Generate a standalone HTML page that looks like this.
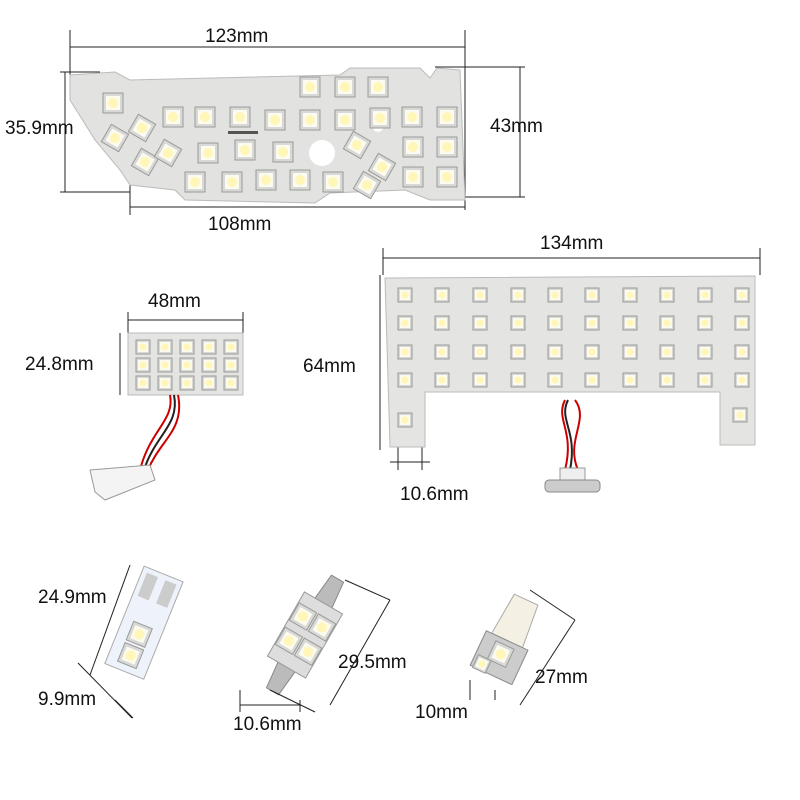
<!DOCTYPE html>
<html><head><meta charset="utf-8"><style>
html,body{margin:0;padding:0;background:#fff}
svg{display:block}
text{font-family:"Liberation Sans",sans-serif;font-size:19px;fill:#111}
</style></head><body>
<svg width="800" height="800" viewBox="0 0 800 800" xmlns="http://www.w3.org/2000/svg">
<defs>
<g id="led"><rect x="-10" y="-10" width="20" height="20" fill="#d8d8d6" stroke="#9a9a98" stroke-width="1"/><rect x="-7" y="-7" width="14" height="14" fill="#fbfbef"/><circle cx="0" cy="0" r="5" fill="#fff6b8"/></g>
<g id="lds"><rect x="-7" y="-7" width="14" height="14" fill="#d8d8d6" stroke="#9a9a98"/><rect x="-5" y="-5" width="10" height="10" fill="#fbfbef"/><circle r="3.5" fill="#fff6b8"/></g>
</defs>
<g stroke="#222" stroke-width="1" fill="none">
<line x1="70" y1="30" x2="70" y2="75"/><line x1="465" y1="30" x2="465" y2="210"/>
<line x1="70" y1="47" x2="465" y2="47"/>
<line x1="65" y1="72" x2="65" y2="192"/><line x1="60" y1="72" x2="100" y2="72"/><line x1="60" y1="192" x2="130" y2="192"/>
<line x1="520" y1="67" x2="520" y2="197"/><line x1="435" y1="67" x2="525" y2="67"/><line x1="430" y1="197" x2="525" y2="197"/>
<line x1="130" y1="185" x2="130" y2="215"/><line x1="130" y1="207" x2="465" y2="207"/>
<line x1="383" y1="248" x2="383" y2="275"/><line x1="760" y1="248" x2="760" y2="275"/><line x1="383" y1="258" x2="760" y2="258"/>
<line x1="380" y1="275" x2="380" y2="450"/>
<line x1="398" y1="440" x2="398" y2="470"/><line x1="422" y1="440" x2="422" y2="470"/><line x1="390" y1="462" x2="430" y2="462"/>
<line x1="128" y1="312" x2="128" y2="335"/><line x1="243" y1="312" x2="243" y2="335"/><line x1="128" y1="320" x2="243" y2="320"/>
<line x1="120" y1="333" x2="120" y2="395"/>
</g>
<polygon points="70,75 115,72 130,80 340,75 350,68 420,68 430,78 437,68 460,70 465,200 430,200 405,190 330,193 315,203 185,200 175,190 130,185 120,170 95,140 70,100" fill="#e2e2e0" stroke="#bbb"/>
<circle cx="322" cy="153" r="13" fill="#fff"/><circle cx="378" cy="127" r="5" fill="#fff"/>
<rect x="228" y="131" width="30" height="3" fill="#555"/>
<g>
<use href="#led" x="310" y="87"/><use href="#led" x="345" y="87"/><use href="#led" x="378" y="87"/><use href="#led" x="113" y="103"/>
<use href="#led" x="173" y="117"/><use href="#led" x="205" y="117"/><use href="#led" x="240" y="117"/><use href="#led" x="275" y="120"/><use href="#led" x="310" y="120"/><use href="#led" x="345" y="120"/><use href="#led" x="380" y="118"/><use href="#led" x="412" y="117"/><use href="#led" x="447" y="117"/>
<use href="#led" x="115" y="138" transform="rotate(30 115 138)"/><use href="#led" x="142" y="128" transform="rotate(30 142 128)"/><use href="#led" x="145" y="162" transform="rotate(30 145 162)"/><use href="#led" x="168" y="153" transform="rotate(30 168 153)"/>
<use href="#led" x="208" y="153"/><use href="#led" x="245" y="150"/><use href="#led" x="283" y="152"/><use href="#led" x="357" y="145" transform="rotate(30 357 145)"/><use href="#led" x="413" y="147"/><use href="#led" x="447" y="147"/>
<use href="#led" x="195" y="182"/><use href="#led" x="232" y="182"/><use href="#led" x="266" y="180"/><use href="#led" x="300" y="180"/><use href="#led" x="333" y="182"/><use href="#led" x="367" y="185" transform="rotate(30 367 185)"/><use href="#led" x="382" y="167" transform="rotate(30 382 167)"/><use href="#led" x="413" y="177"/><use href="#led" x="447" y="177"/>
</g>
<polygon points="385,278 755,276 755,445 720,445 720,392 425,392 425,447 390,447" fill="#e4e4e2" stroke="#bbb"/>
<g id="bg">
<use href="#lds" x="405" y="295"/><use href="#lds" x="442" y="295"/><use href="#lds" x="480" y="295"/><use href="#lds" x="518" y="295"/><use href="#lds" x="555" y="295"/><use href="#lds" x="592" y="295"/><use href="#lds" x="630" y="295"/><use href="#lds" x="667" y="295"/><use href="#lds" x="705" y="295"/><use href="#lds" x="742" y="295"/>
</g>
<use href="#bg" y="28"/><use href="#bg" y="57"/><use href="#bg" y="85"/>
<use href="#lds" x="405" y="420"/><use href="#lds" x="740" y="415"/>
<path d="M565,400 C555,420 575,430 565,470 M575,400 C590,420 565,440 578,470" stroke="#c00" stroke-width="2" fill="none"/>
<path d="M568,400 C558,420 578,430 570,470" stroke="#222" stroke-width="2" fill="none"/>
<rect x="560" y="468" width="25" height="14" fill="#eee" stroke="#999"/>
<rect x="545" y="480" width="55" height="12" rx="4" fill="#ccc" stroke="#888"/>
<rect x="128" y="333" width="115" height="62" fill="#e4e4e2" stroke="#bbb"/>
<g id="sg"><use href="#lds" x="143" y="347"/><use href="#lds" x="165" y="347"/><use href="#lds" x="187" y="347"/><use href="#lds" x="209" y="347"/><use href="#lds" x="231" y="347"/></g>
<use href="#sg" y="18"/><use href="#sg" y="36"/>
<path d="M170,395 C175,420 150,430 140,470 M178,395 C185,430 160,440 148,470" stroke="#c00" stroke-width="2" fill="none"/>
<path d="M174,395 C180,425 155,435 144,470" stroke="#222" stroke-width="2" fill="none"/>
<polygon points="90,470 150,465 155,480 105,500 95,492" fill="#f4f4f4" stroke="#999"/>
<!-- bulb 1 -->
<g transform="rotate(22 143 625)"><rect x="122" y="570" width="42" height="105" fill="#eef2fa" stroke="#aaa"/><rect x="127" y="575" width="12" height="25" fill="#ccc"/><rect x="147" y="575" width="12" height="25" fill="#ccc"/><use href="#led" x="143" y="635"/><use href="#led" x="143" y="658"/></g>
<g stroke="#222" fill="none"><line x1="130" y1="565" x2="90" y2="675"/><line x1="78" y1="663" x2="132" y2="718"/><line x1="133" y1="718" x2="115" y2="700"/></g>
<!-- bulb 2 -->
<g transform="rotate(30 305 635)"><polygon points="298,570 312,570 315,600 295,600" fill="#bbb" stroke="#888"/><polygon points="295,670 315,670 312,700 298,700" fill="#bbb" stroke="#888"/><rect x="283" y="598" width="44" height="74" fill="#ddd" stroke="#999"/><use href="#led" x="294" y="620"/><use href="#led" x="316" y="620"/><use href="#led" x="294" y="648"/><use href="#led" x="316" y="648"/></g>
<g stroke="#222" fill="none"><line x1="240" y1="690" x2="240" y2="712"/><line x1="300" y1="700" x2="300" y2="712"/><line x1="240" y1="705" x2="300" y2="705"/><line x1="345" y1="580" x2="390" y2="600"/><line x1="270" y1="690" x2="315" y2="712"/><line x1="390" y1="600" x2="330" y2="705"/></g>
<!-- bulb 3 -->
<g transform="rotate(25 505 645)"><polygon points="492,595 518,595 522,640 488,640" fill="#f4f0e4" stroke="#aaa"/><rect x="482" y="640" width="46" height="38" fill="#ccc" stroke="#888"/><use href="#led" x="505" y="655"/><use href="#lds" x="492" y="672"/></g>
<g stroke="#222" fill="none"><line x1="530" y1="590" x2="575" y2="620"/><line x1="575" y1="620" x2="520" y2="705"/><line x1="470" y1="680" x2="470" y2="700"/><line x1="495" y1="690" x2="495" y2="700"/></g>
<text x="205" y="42">123mm</text>
<text x="5" y="134">35.9mm</text>
<text x="490" y="132">43mm</text>
<text x="208" y="230">108mm</text>
<text x="540" y="249">134mm</text>
<text x="148" y="307">48mm</text>
<text x="25" y="370">24.8mm</text>
<text x="303" y="372">64mm</text>
<text x="400" y="500">10.6mm</text>
<text x="38" y="603">24.9mm</text>
<text x="38" y="705">9.9mm</text>
<text x="338" y="668">29.5mm</text>
<text x="233" y="730">10.6mm</text>
<text x="535" y="683">27mm</text>
<text x="415" y="718">10mm</text>
</svg>
</body></html>
